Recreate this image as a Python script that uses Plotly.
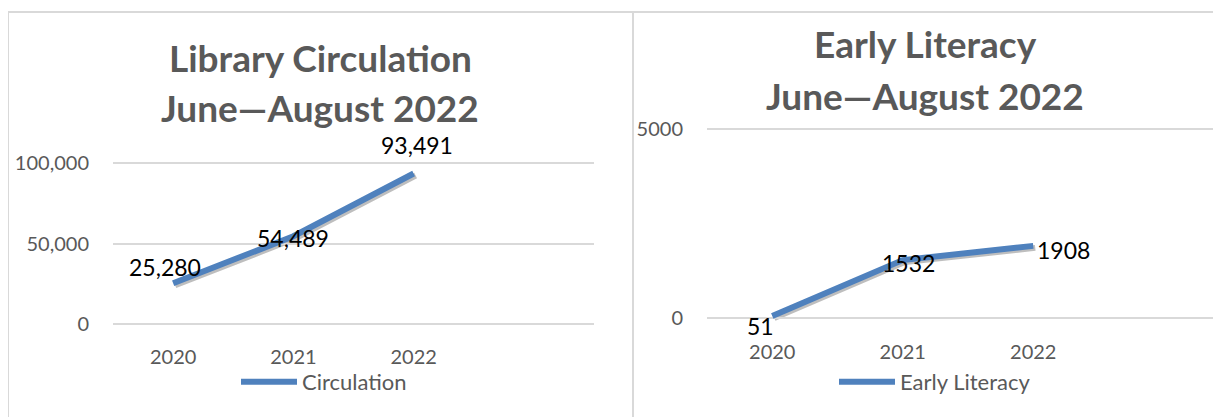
import plotly.graph_objects as go

W, H = 1221, 417
OFF = 8  # page body margin of the rendered html

years = ["2020", "2021", "2022"]
circulation = [25280, 54489, 93491]
early_literacy = [51, 1532, 1908]

circ_title = ["Library Circulation", "June\u2014August 2022"]
lit_title = ["Early Literacy", "June\u2014August 2022"]
circ_yticks = [0, 50000, 100000]
lit_yticks = [0, 5000]

# label offsets in pixels (dx right, dy down) relative to each point
circ_label_offsets = [(-8, -16), (0, 2), (3, -28)]
lit_label_offsets = [(-12, 10), (6, 3), (30, 4)]

BLUE = "#4f81bd"
GRAY_TXT = "#595959"
GRID = "#d9d9d9"
FONT = "Lato"


def px(x):
    return (x - OFF) / W


def py(y):
    return (H - (y - OFF)) / H


def y_span(ticks, bottom_px, top_px, pad=0.03):
    """range padded slightly so the edge gridlines are drawn, and matching domain"""
    lo, hi = min(ticks), max(ticks)
    k = (bottom_px - top_px) / (hi - lo)
    p = pad * (hi - lo)
    return [lo - p, hi + p], [py(bottom_px + p * k), py(top_px - p * k)]


cats = years + [" "]
SX, SY = 2, 2  # shadow offset

L_range, L_dom_y = y_span(circ_yticks, 324, 163)
R_range, R_dom_y = y_span(lit_yticks, 318, 129)
Ls_range, Ls_dom_y = y_span(circ_yticks, 324 + SY, 163 + SY)
Rs_range, Rs_dom_y = y_span(lit_yticks, 318 + SY, 129 + SY)
L_dom_x = [px(113), px(594)]
R_dom_x = [px(707), px(1229)]

fig = go.Figure()

shadow = dict(mode="lines", line=dict(color="rgba(40,40,40,0.3)", width=6),
              showlegend=False, hoverinfo="skip")
fig.add_trace(go.Scatter(x=years, y=circulation, xaxis="x", yaxis="y", **shadow))
fig.add_trace(go.Scatter(x=years, y=early_literacy, xaxis="x2", yaxis="y2", **shadow))

fig.add_trace(go.Scatter(
    x=years, y=circulation, mode="lines", name="Circulation",
    line=dict(color=BLUE, width=6), cliponaxis=False,
    xaxis="x3", yaxis="y3", legend="legend"))

fig.add_trace(go.Scatter(
    x=years, y=early_literacy, mode="lines", name="Early Literacy",
    line=dict(color=BLUE, width=6), cliponaxis=False,
    xaxis="x4", yaxis="y4", legend="legend2"))

xcommon = dict(type="category", categoryorder="array", categoryarray=cats,
               showgrid=False, zeroline=False, showline=False, automargin=False,
               ticks="outside", ticklen=10, tickcolor="rgba(0,0,0,0)",
               tickfont=dict(family=FONT, size=20, color=GRAY_TXT))
ycommon = dict(showgrid=True, gridcolor=GRID, gridwidth=2, zeroline=False, showline=False,
               automargin=False,
               ticks="outside", ticklen=19, tickcolor="rgba(0,0,0,0)",
               tickfont=dict(family=FONT, size=20, color=GRAY_TXT))
xhidden = dict(type="category", categoryorder="array", categoryarray=cats, visible=False,
               automargin=False, fixedrange=True)
yhidden = dict(visible=False, automargin=False, fixedrange=True)

fig.update_layout(
    width=W, height=H,
    margin=dict(l=0, r=0, t=0, b=0, autoexpand=False),
    paper_bgcolor="white", plot_bgcolor="rgba(0,0,0,0)",
    showlegend=True,
    # shadow axes
    xaxis=dict(**xhidden, domain=[px(113 + SX), px(594 + SX)], range=[-0.5, 3.5], anchor="y"),
    yaxis=dict(**yhidden, domain=Ls_dom_y, range=Ls_range, anchor="x"),
    xaxis2=dict(**xhidden, domain=[px(707 + SX), px(1229)],
                range=[-0.5, 3.5 - SX / 130.5], anchor="y2"),
    yaxis2=dict(**yhidden, domain=Rs_dom_y, range=Rs_range, anchor="x2"),
    # visible axes
    xaxis3=dict(**xcommon, domain=L_dom_x, range=[-0.5, 3.5], anchor="y3"),
    yaxis3=dict(**ycommon, domain=L_dom_y, range=L_range, tickvals=circ_yticks,
                tickformat=",", anchor="x3"),
    xaxis4=dict(**xcommon, domain=R_dom_x, range=[-0.5, 3.5], anchor="y4"),
    yaxis4=dict(**ycommon, domain=R_dom_y, range=R_range, tickvals=lit_yticks,
                tickformat="d", anchor="x4"),
    legend=dict(x=px(236), y=py(382), xanchor="left", yanchor="middle", itemwidth=56,
                font=dict(family=FONT, size=22, color=GRAY_TXT), bgcolor="rgba(0,0,0,0)"),
    legend2=dict(x=px(834), y=py(382), xanchor="left", yanchor="middle", itemwidth=56,
                 font=dict(family=FONT, size=22, color=GRAY_TXT), bgcolor="rgba(0,0,0,0)"),
)

# data labels (x given as category index)
label_font = dict(family=FONT, size=23, color="black")
for i, (v, (dx, dy)) in enumerate(zip(circulation, circ_label_offsets)):
    fig.add_annotation(x=i, y=v, xref="x3", yref="y3", text=f"{v:,}", showarrow=False,
                       xanchor="center", yanchor="middle", xshift=dx, yshift=-dy, font=label_font)
for i, (v, (dx, dy)) in enumerate(zip(early_literacy, lit_label_offsets)):
    fig.add_annotation(x=i, y=v, xref="x4", yref="y4", text=f"{v}", showarrow=False,
                       xanchor="center", yanchor="middle", xshift=dx, yshift=-dy, font=label_font)

# titles
title_font = dict(family=FONT, size=37, color=GRAY_TXT)
for t, yy in zip(circ_title, [57, 108]):
    fig.add_annotation(text="<b>%s</b>" % t, x=px(320), y=py(yy), xref="paper", yref="paper",
                       xanchor="center", yanchor="middle", showarrow=False, font=title_font)
for t, yy in zip(lit_title, [43, 95]):
    fig.add_annotation(text="<b>%s</b>" % t, x=px(925), y=py(yy), xref="paper", yref="paper",
                       xanchor="center", yanchor="middle", showarrow=False, font=title_font)

# panel borders
border = dict(color=GRID, width=2)
fig.add_shape(type="line", xref="paper", yref="paper", x0=px(8), x1=1, y0=py(12), y1=py(12), line=border)
fig.add_shape(type="line", xref="paper", yref="paper", x0=px(8), x1=px(8), y0=py(12), y1=0, line=border)
fig.add_shape(type="line", xref="paper", yref="paper", x0=px(633), x1=px(633), y0=py(12), y1=0, line=border)

fig.write_html("out.html")
